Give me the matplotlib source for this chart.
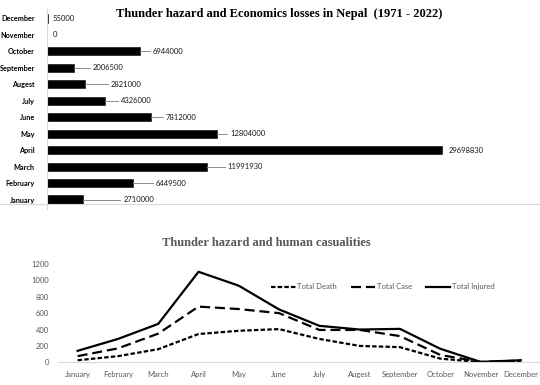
import matplotlib
matplotlib.use("Agg")
import matplotlib.pyplot as plt
from matplotlib.lines import Line2D

# ---- data ----
months_bar = ["January", "February", "March", "April", "May", "June",
              "July", "Augest", "September", "October", "November", "December"]
losses = [2710000, 6449500, 11991930, 29698830, 12804000, 7812000,
          4326000, 2821000, 2006500, 6944000, 0, 55000]
# leader line length (pixels) for each data label
leader_px = [37, 20, 18, 4, 10, 12, 13, 23, 16, 10, 2, 2]

months_line = ["January", "February", "March", "April", "May", "June",
               "July", "Augest", "September", "October", "November", "December"]
total_death = [25, 75, 160, 345, 385, 405, 285, 200, 185, 45, 2, 10]
total_case = [75, 170, 350, 680, 650, 600, 395, 395, 320, 90, 5, 20]
total_injured = [140, 285, 469, 1105, 935, 645, 445, 400, 408, 165, 5, 25]

W, H = 540, 385
fig = plt.figure(figsize=(W / 100, H / 100), dpi=100)

def box(x0, y0, x1, y1):
    return [x0 / W, 1 - y1 / H, (x1 - x0) / W, (y1 - y0) / H]

SANS = ["Lato", "DejaVu Sans"]
SERIF = ["Liberation Serif", "DejaVu Serif"]

# ---- top bar chart ----
px_per_unit = (441.7 - 47.3) / 29698830.0
ax1 = fig.add_axes(box(47.3, 8.6, 535, 209.4))
ypos = list(range(len(months_bar)))
ax1.barh(ypos, losses, height=0.49, color="black", edgecolor="black", linewidth=0.4, zorder=2)
ax1.set_xlim(0, (535 - 47.3) / px_per_unit)
ax1.set_ylim(-0.6, 11.6)
ax1.set_yticks(ypos)
ax1.set_yticklabels(months_bar, fontsize=5.2, fontweight="bold", family=SANS)
ax1.tick_params(axis="y", length=0, pad=9)
ax1.set_xticks([])
for s in ["top", "right", "bottom"]:
    ax1.spines[s].set_visible(False)
ax1.spines["left"].set_color("#d9d9d9")
ax1.spines["left"].set_linewidth(0.8)
for y, v, lp in zip(ypos, losses, leader_px):
    xs = v * px_per_unit
    x_end = (xs + lp) / px_per_unit
    if lp > 4:
        ax1.plot([v, x_end], [y, y], color="#8c8c8c", lw=0.7, zorder=3)
    ax1.text(x_end + 3 / px_per_unit, y, f"{v}", fontsize=5.5, family=SANS,
             va="center", ha="left", color="#1a1a1a")
fig.text(279 / W, 1 - 14 / H, "Thunder hazard and Economics losses in Nepal  (1971 - 2022)",
         ha="center", va="center", fontsize=9, fontweight="bold", family=SERIF)
fig.add_artist(Line2D([0, 1], [1 - 204 / H, 1 - 204 / H], color="#d9d9d9", lw=0.8,
                      transform=fig.transFigure))

# ---- bottom line chart ----
ax2 = fig.add_axes(box(57.5, 264, 541, 362.3))
xs = list(range(len(months_line)))
ax2.plot(xs, total_death, color="black", lw=1.6, linestyle=(0, (2, 1)), label="Total Death")
ax2.plot(xs, total_case, color="black", lw=1.6, linestyle=(0, (4.5, 2.2)), label="Total Case")
ax2.plot(xs, total_injured, color="black", lw=1.6, linestyle="-", label="Total Injured")
ax2.set_xlim(-0.5, 11.5)
ax2.set_ylim(0, 1200)
ax2.set_yticks(range(0, 1201, 200))
ax2.set_xticks(xs)
ax2.set_xticklabels(months_line, fontsize=5.5, family=SANS, color="#595959")
for lab in ax2.get_yticklabels():
    lab.set_fontsize(5.5)
    lab.set_family(SANS)
    lab.set_color("#595959")
ax2.tick_params(axis="both", length=0)
ax2.tick_params(axis="x", pad=6)
ax2.tick_params(axis="y", pad=6)
for s in ["top", "right", "left"]:
    ax2.spines[s].set_visible(False)
ax2.spines["bottom"].set_color("#d9d9d9")
ax2.spines["bottom"].set_linewidth(0.8)
leg = ax2.legend(loc="center", bbox_to_anchor=((383 - 57.5) / (541 - 57.5), (362.3 - 286.7) / 98.3),
                 ncol=3, frameon=False, fontsize=5.5, handlelength=3.2, handletextpad=0.2,
                 columnspacing=1.8, prop={"family": SANS, "size": 5.5})
for t in leg.get_texts():
    t.set_color("#595959")
fig.text(266 / W, 1 - 243 / H, "Thunder hazard and human casualities",
         ha="center", va="center", fontsize=9, fontweight="bold", family=SERIF, color="#595959")

fig.savefig("out.png", dpi=100)
